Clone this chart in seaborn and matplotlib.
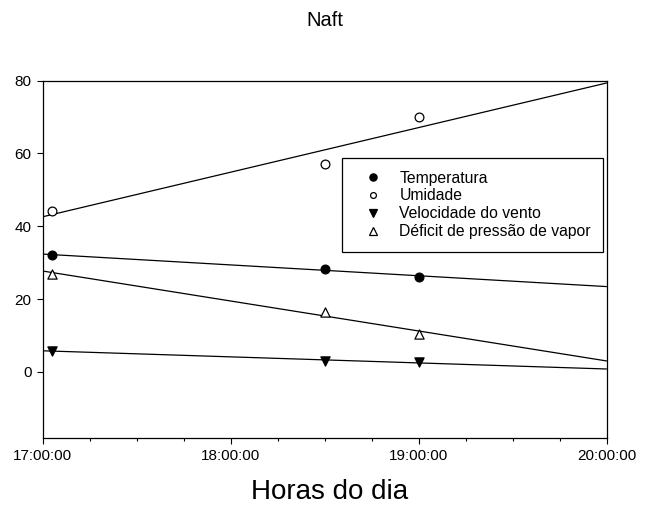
import matplotlib
matplotlib.use("Agg")
import matplotlib.pyplot as plt
from matplotlib.lines import Line2D
from matplotlib.ticker import FixedLocator, MultipleLocator
import seaborn as sns
import numpy as np

sns.set_style("ticks")
plt.rcParams['font.family'] = ['Liberation Sans', 'DejaVu Sans']
plt.rcParams['text.color'] = 'black'

# Data (time of day)
horas = ["17:03", "18:30", "19:00"]
temperatura = [32.1, 28.3, 26.1]
umidade = [44.2, 57.0, 70.0]
velocidade_vento = [5.8, 3.0, 2.7]
deficit_pressao = [27.0, 16.5, 10.4]
series_names = ["Temperatura", "Umidade", "Velocidade do vento", "Déficit de pressão de vapor"]
x_ticks = ["17:00:00", "18:00:00", "19:00:00", "20:00:00"]

x = np.array([int(h.split(":")[0]) + int(h.split(":")[1]) / 60 for h in horas])

W, H = 645, 505
fig = plt.figure(figsize=(W/100, H/100), dpi=100)
L, R, T, B = 42.5, 606.5, 80.5, 437.5
ax = fig.add_axes([L/W, 1-B/H, (R-L)/W, (B-T)/H])
ax.set_xlim(17, 20)
ax.set_ylim(-18, 80)

styles = [
    dict(marker="o", s=40, fc="black", ms=5.2),
    dict(marker="o", s=40, fc="white", ms=4.2),
    dict(marker="v", s=44, fc="black", ms=5.6),
    dict(marker="^", s=44, fc="white", ms=5.2),
]
data = [temperatura, umidade, velocidade_vento, deficit_pressao]
handles = []
for name, y, st in zip(series_names, data, styles):
    sk = dict(s=st["s"], facecolors=st["fc"], edgecolors="black",
              linewidths=0.9, alpha=1, zorder=3)
    sns.regplot(x=x, y=np.array(y), ax=ax, ci=None, truncate=False,
                marker=st["marker"], color="black",
                scatter_kws=sk, line_kws=dict(color="black", lw=0.9, zorder=2))
    handles.append(Line2D([], [], linestyle="none", marker=st["marker"],
                          markersize=st["ms"],
                          markerfacecolor=st["fc"], markeredgecolor="black",
                          markeredgewidth=0.9, label=name))

ax.set_xlim(17, 20)
ax.set_ylim(-18, 80)
ax.xaxis.set_major_locator(FixedLocator([17, 18, 19, 20]))
ax.set_xticklabels(x_ticks)
ax.xaxis.set_minor_locator(MultipleLocator(0.25))
ax.yaxis.set_major_locator(FixedLocator([0, 20, 40, 60, 80]))
ax.tick_params(axis="both", which="major", labelsize=11, length=4.3, width=0.8,
               direction="out", color="black", labelcolor="black")
ax.tick_params(axis="x", which="major", pad=4)
ax.tick_params(axis="y", which="major", pad=3.5)
ax.tick_params(axis="x", which="minor", length=2.5, width=0.8, direction="out", color="black")
ax.tick_params(axis="y", which="minor", left=False)
for sp in ax.spines.values():
    sp.set_visible(True)
    sp.set_color("black")
    sp.set_linewidth(0.9)

ax.set_xlabel("")
ax.set_ylabel("")
fig.text(330/W, 1-499/H, "Horas do dia", ha="center", va="baseline", fontsize=20, color="black")
fig.text(324.5/W, 1-25.5/H, "Naft", ha="center", va="baseline", fontsize=14.5, color="black")

leg = ax.legend(handles=handles, loc="upper left",
                bbox_to_anchor=((342-L)/(R-L), (B-158)/(B-T)),
                fontsize=11.3, frameon=True, fancybox=False, framealpha=1,
                edgecolor="black", handletextpad=0.45, borderpad=0.8,
                borderaxespad=0, labelspacing=0.18, handlelength=2.4)
leg.get_frame().set_linewidth(0.9)
for t in leg.get_texts():
    t.set_color("black")

fig.savefig("out.png", dpi=100)
